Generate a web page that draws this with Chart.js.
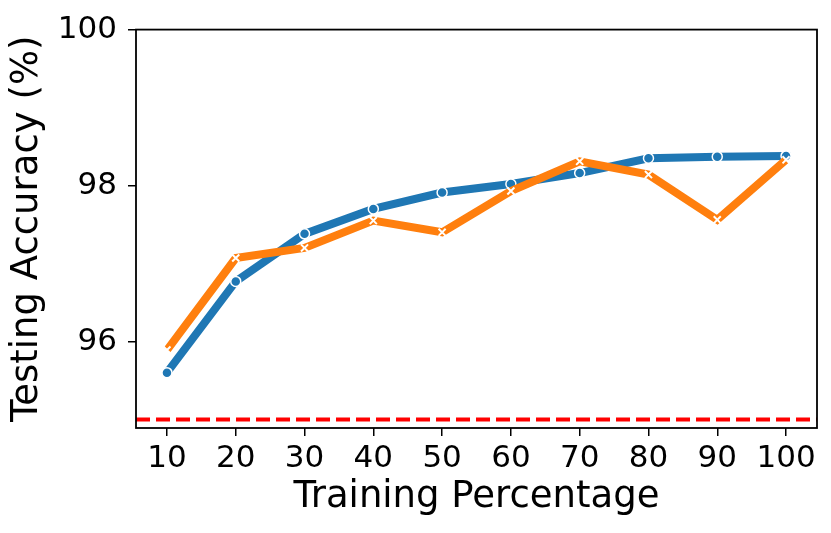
<!DOCTYPE html>
<html>
<head>
<meta charset="utf-8">
<script src="https://cdn.jsdelivr.net/npm/chart.js@4/dist/chart.umd.min.js"></script>
<style>
  html, body { margin: 0; padding: 0; background: #fff; }
  #wrap { width: 831px; height: 533px; }
</style>
</head>
<body>
<div id="wrap"><canvas id="acc"></canvas></div>
<script>
// 학습 비율 (x축)
const percentages = [10, 20, 30, 40, 50, 60, 70, 80, 90, 100];
// 두 모델의 테스트 정확도
const blueAcc = [95.60, 96.77, 97.38, 97.70, 97.91, 98.02, 98.16, 98.35, 98.37, 98.38];
const orangeAcc = [95.89, 97.07, 97.20, 97.55, 97.40, 97.93, 98.31, 98.14, 97.56, 98.33];
// 기준선 값
const baseline = 95.0;
// 축 눈금
const yTicks = [96, 98, 100];
const xMin = 5.5, xMax = 104.5;
const yMin = 94.89, yMax = 100;

const blueColor = '#1f77b4';
const orangeColor = '#ff7f0e';

// 그래프 바깥 테두리
const frame = {
    id: 'frame',
    afterDraw(chart) {
        const a = chart.chartArea, ctx = chart.ctx;
        ctx.save();
        ctx.strokeStyle = '#000';
        ctx.lineWidth = 1.8;
        ctx.strokeRect(a.left, a.top, a.right - a.left, a.bottom - a.top);
        ctx.restore();
    }
};

const tickFont = { family: 'DejaVu Sans', size: 31 };
const titleFont = { family: 'DejaVu Sans', size: 37 };

new Chart(document.getElementById('acc'), {
    type: 'line',
    data: {
        datasets: [
            {
                label: 'baseline',
                data: [{ x: xMin, y: baseline }, { x: xMax, y: baseline }],
                borderColor: '#ff0000',
                borderWidth: 4,
                borderDash: [14, 6],
                pointRadius: 0,
                order: 0
            },
            {
                label: 'orange',
                data: percentages.map((p, i) => ({ x: p, y: orangeAcc[i] })),
                borderColor: orangeColor,
                borderWidth: 8,
                pointStyle: 'crossRot',
                pointRadius: 5,
                pointBorderColor: '#fff',
                pointBorderWidth: 2,
                order: 1
            },
            {
                label: 'blue',
                data: percentages.map((p, i) => ({ x: p, y: blueAcc[i] })),
                borderColor: blueColor,
                borderWidth: 8,
                pointStyle: 'circle',
                pointRadius: 5,
                pointBackgroundColor: blueColor,
                pointBorderColor: '#fff',
                pointBorderWidth: 1.5,
                order: 2
            }
        ]
    },
    options: {
        responsive: true,
        maintainAspectRatio: false,
        animation: false,
        layout: { padding: { top: 27, right: 14, left: 0, bottom: 0 } },
        plugins: {
            legend: { display: false },
            tooltip: { enabled: false }
        },
        scales: {
            x: {
                type: 'linear',
                min: xMin,
                max: xMax,
                afterBuildTicks: s => { s.ticks = percentages.map(v => ({ value: v })); },
                afterFit: s => { s.height = 105; },
                grid: { drawOnChartArea: false, drawTicks: true, tickLength: 8, color: '#000', lineWidth: 1.5 },
                border: { display: false },
                ticks: { color: '#000', font: tickFont, padding: 4, maxRotation: 0 },
                title: {
                    display: true,
                    text: 'Training Percentage',
                    color: '#000',
                    font: titleFont,
                    padding: { top: 0, bottom: 13 }
                }
            },
            y: {
                min: yMin,
                max: yMax,
                afterBuildTicks: s => { s.ticks = yTicks.map(v => ({ value: v })); },
                afterFit: s => { s.width = 136; },
                grid: { drawOnChartArea: false, drawTicks: true, tickLength: 8, color: '#000', lineWidth: 1.5 },
                border: { display: false },
                ticks: { color: '#000', font: tickFont, padding: 11 },
                title: {
                    display: true,
                    text: 'Testing Accuracy (%)',
                    color: '#000',
                    font: titleFont,
                    padding: { top: 5, bottom: 0 }
                }
            }
        }
    },
    plugins: [frame]
});
</script>
</body>
</html>
